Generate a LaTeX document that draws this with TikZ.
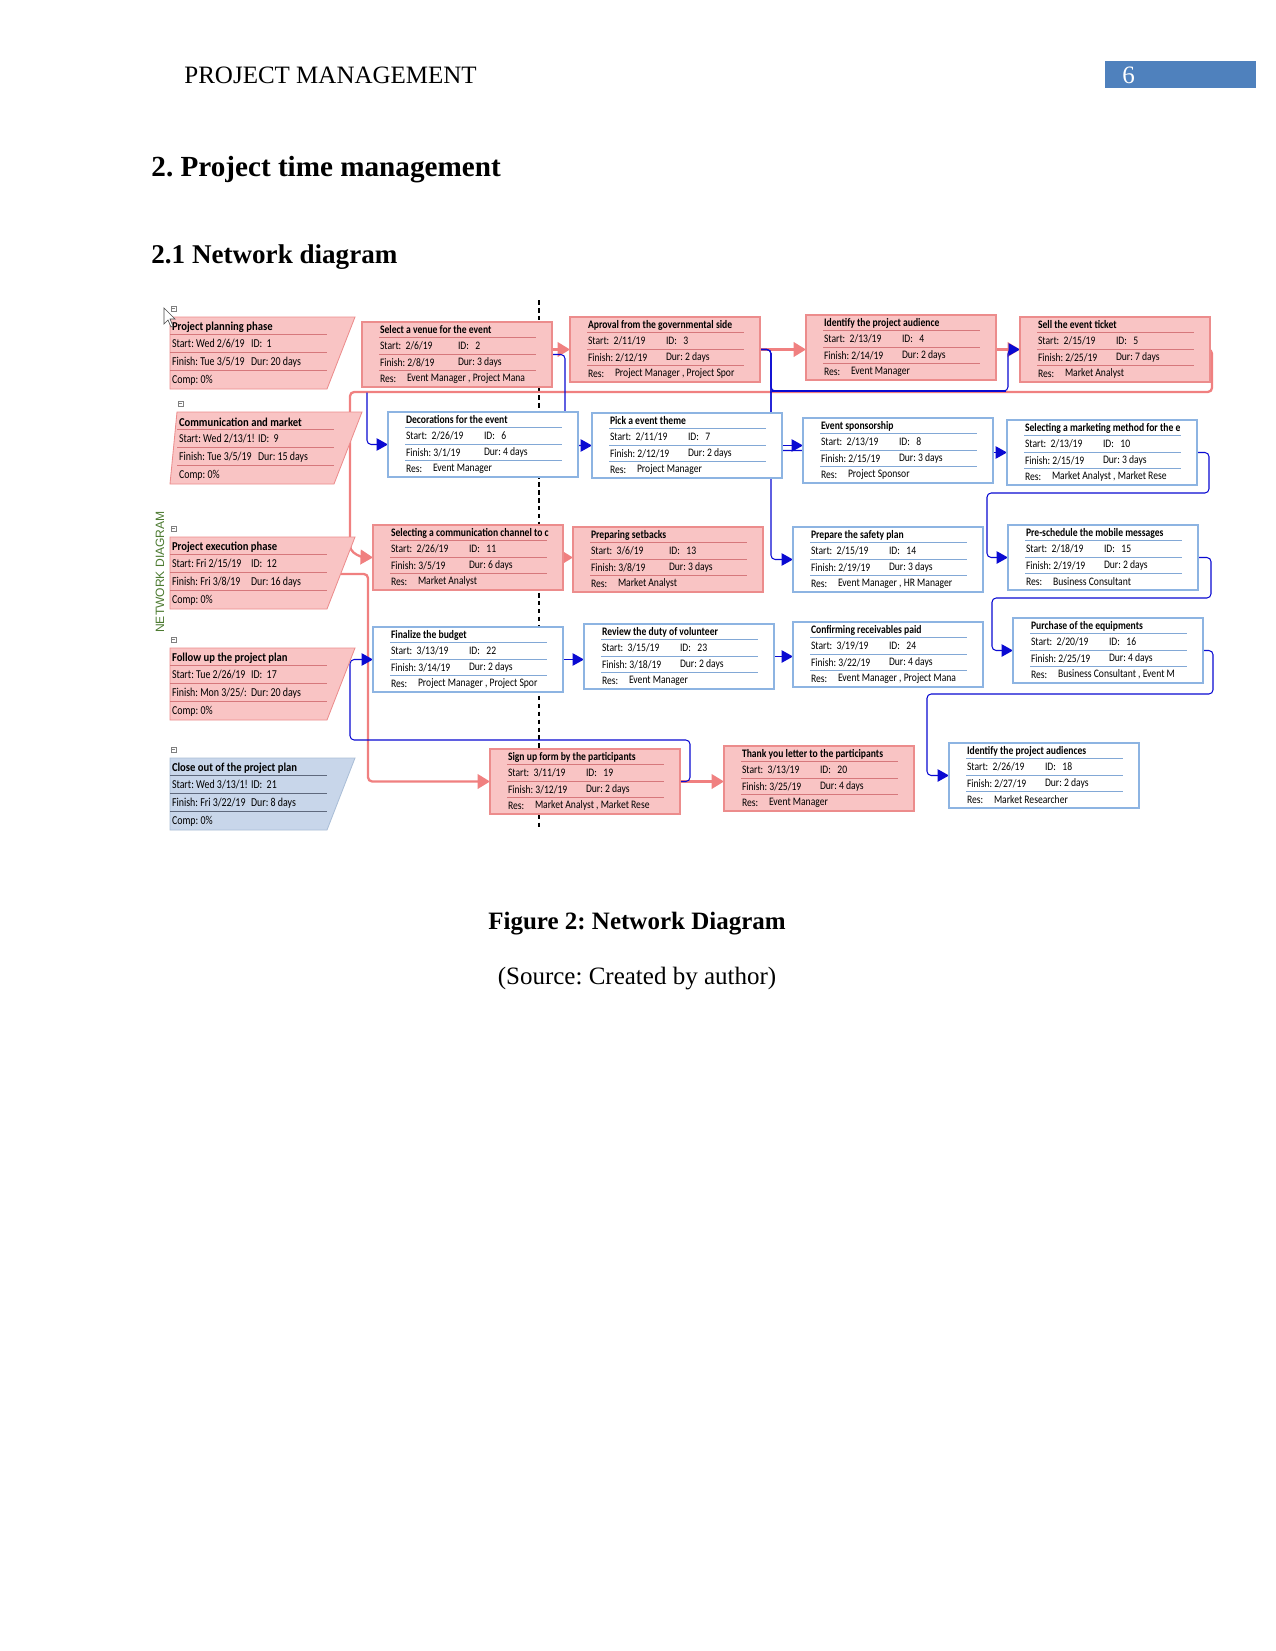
\documentclass[tikz,border=0pt]{standalone}
\usepackage{fontspec}
\setmainfont{Liberation Serif}
\newfontfamily\dfont{Carlito}[FakeStretch=0.84]
\newfontfamily\sfontr{Carlito}[FakeStretch=0.82]
\newfontfamily\sfontb{Carlito}[FakeStretch=0.88]
\newfontfamily\vfont{Liberation Sans}
\usetikzlibrary{arrows.meta,calc}
\pgfdeclarelayer{canvas}
\pgfdeclarelayer{background}
\pgfsetlayers{canvas,background,main}
\frenchspacing

\definecolor{critfill}{RGB}{249,196,196}
\definecolor{critline}{RGB}{236,140,140}
\definecolor{critsepc}{RGB}{214,120,124}
\definecolor{normline}{RGB}{141,180,226}
\definecolor{normsepc}{RGB}{130,168,214}
\definecolor{closefill}{RGB}{200,214,234}
\definecolor{closeline}{RGB}{170,190,215}
\definecolor{closesepc}{RGB}{95,105,125}
\definecolor{pinkc}{RGB}{240,128,128}
\definecolor{bluec}{RGB}{10,10,210}
\definecolor{hdrblue}{RGB}{79,129,189}
\definecolor{ndgreen}{RGB}{76,122,48}

\tikzset{
  critbox/.style={draw=critline, fill=critfill, line width=0.5pt, minimum width=91.2pt, minimum height=31.2pt, inner sep=0, outer sep=0},
  normbox/.style={draw=normline, fill=white, line width=0.5pt, minimum width=91.2pt, minimum height=31.2pt, inner sep=0, outer sep=0},
  critsep/.style={draw=critsepc, line width=0.4pt},
  normsep/.style={draw=normsepc, line width=0.4pt},
  critsum/.style={fill=critfill, draw=critline, line width=0.4pt},
  closesum/.style={fill=closefill, draw=closeline, line width=0.4pt},
  critsumsep/.style={draw=critsepc, line width=0.4pt},
  closesumsep/.style={draw=closesepc, line width=0.4pt},
  sumnode/.style={minimum height=34.56pt, inner sep=0, outer sep=0},
  ttl/.style={font=\dfont\bfseries\fontsize{5.5}{6.5}\selectfont, anchor=west, inner sep=0, outer sep=0},
  txt/.style={font=\dfont\fontsize{5.5}{6.5}\selectfont, anchor=west, inner sep=0, outer sep=0},
  sttl/.style={font=\sfontb\bfseries\fontsize{5.8}{7}\selectfont, anchor=west, inner sep=0, outer sep=0},
  stxt/.style={font=\sfontr\fontsize{5.8}{7}\selectfont, anchor=west, inner sep=0, outer sep=0},
  colbox/.style={draw=gray, fill=white, line width=0.3pt},
  nc/.style={draw=bluec, line width=0.5pt, rounded corners=2pt},
  cc/.style={draw=pinkc, line width=1.1pt, rounded corners=2pt},
  ntip/.style={-{Triangle[length=5.5pt,width=6pt]}},
  ctip/.style={-{Triangle[length=6pt,width=7pt]}},
  dashline/.style={draw=black, line width=0.5pt, dash pattern=on 2.2pt off 1.6pt},
}

% task box: name, pos, style, title, start, id, finish, dur, res
\newcommand\taskbox[9]{%
  \node[#3box, anchor=north west] (#1) at (#2) {};
  \foreach \yy in {15.5,32,48.5} \draw[#3sep] ($(#1.north west)+(17,\yy)$) -- +(157,0);
  \node[ttl] at ($(#1.north west)+(18,8)$) {#4};
  \node[txt] at ($(#1.north west)+(18,24)$) {Start:\ \ #5};
  \node[txt] at ($(#1.north west)+(96,24)$) {ID:\ \ \ #6};
  \node[txt] at ($(#1.north west)+(18,40.5)$) {Finish:\ #7};
  \node[txt] at ($(#1.north west)+(96,40.5)$) {Dur:\ #8};
  \node[txt] at ($(#1.north west)+(18,56.5)$) {Res:};
  \node[txt] at ($(#1.north west)+(45,56.5)$) {#9};
}
% summary task: name, pos, style, title, start, id, finish, dur, left skew
\newcommand\sumtask[9]{%
  \node[sumnode, minimum width={(185+#9)*0.48pt}, anchor=north west] (#1) at (#2) {};
  \filldraw[#3] ($(#1.north west)+(#9,0)$) -- (#1.north east) -- ($(#1.south east)+(-28,0)$) -- (#1.south west) -- cycle;
  \foreach \yy in {17.5,35.5,53.5} \draw[#3sep] ($(#1.north west)+(#9,\yy)$) -- +(157,0);
  \draw[colbox] ($(#1.north west)+(#9+1,-11)$) rectangle +(5,5);
  \draw[gray, line width=0.3pt] ($(#1.north west)+(#9+2,-8.5)$) -- +(3,0);
  \node[sttl] at ($(#1.north west)+(#9+2,10)$) {#4};
  \node[stxt] at ($(#1.north west)+(#9+2,27)$) {Start: #5};
  \node[stxt] at ($(#1.north west)+(#9+81,27)$) {ID:\ \ #6};
  \node[stxt] at ($(#1.north west)+(#9+2,45)$) {Finish: #7};
  \node[stxt] at ($(#1.north west)+(#9+81,45)$) {Dur: #8};
  \node[stxt] at ($(#1.north west)+(#9+2,63)$) {Comp: 0\%};
}

\begin{document}
\begin{tikzpicture}[x=0.48pt, y=-0.48pt]
\useasboundingbox (0,0) rectangle (1275,1651);
\begin{pgfonlayer}{canvas}
  \fill[white] (0,0) rectangle (1275,1651);
\end{pgfonlayer}

% header
\node[anchor=west, font=\fontsize{12}{14}\selectfont, inner sep=0] (hdr) at (184,75) {PROJECT MANAGEMENT};
\node[fill=hdrblue, minimum width=72.48pt, minimum height=12.96pt, anchor=north west, inner sep=0, outer sep=0] (pg) at (1105,61) {};
\node[anchor=west, text=white, font=\fontsize{12}{14}\selectfont, inner sep=0] (pgno) at (1122,75) {6};

% headings
\node[anchor=west, font=\bfseries\fontsize{14}{16}\selectfont, inner sep=0] (h1) at (151,170) {2. Project time management};
\node[anchor=west, font=\bfseries\fontsize{13}{15}\selectfont, inner sep=0] (h2) at (151,257) {2.1 Network diagram};

% side label
\node[rotate=90, font=\vfont\fontsize{5.8}{7}\selectfont, text=ndgreen, inner sep=0] (nd) at (160,572) {NETWORK DIAGRAM};

% summary tasks
\sumtask{s1}{170,317}{critsum}{Project planning phase}{Wed 2/6/19}{1}{Tue 3/5/19}{20 days}{0}
\sumtask{s9}{170,412}{critsum}{Communication and market}{Wed 2/13/1!}{9}{Tue 3/5/19}{15 days}{7}
\sumtask{s12}{170,537}{critsum}{Project execution phase}{Fri 2/15/19}{12}{Fri 3/8/19}{16 days}{0}
\sumtask{s17}{170,648}{critsum}{Follow up the project plan}{Tue 2/26/19}{17}{Mon 3/25/:}{20 days}{0}
\sumtask{s21}{170,758}{closesum}{Close out of the project plan}{Wed 3/13/1!}{21}{Fri 3/22/19}{8 days}{0}

% mouse cursor
\filldraw[fill=white, draw=black!70, line width=0.3pt] (164,308) -- (164,324) -- (168,320) -- (171,327) -- (173,326) -- (170,319) -- (175,319) -- cycle;

% tasks
\taskbox{t2}{362,322}{crit}{Select a venue for the event}{2/6/19}{2}{2/8/19}{3 days}{Event Manager , Project Mana}
\taskbox{t3}{570,317}{crit}{Aproval from the governmental side}{2/11/19}{3}{2/12/19}{2 days}{Project Manager , Project Spor}
\taskbox{t4}{806,315}{crit}{Identify the project audience}{2/13/19}{4}{2/14/19}{2 days}{Event Manager}
\taskbox{t5}{1020,317}{crit}{Sell the event ticket}{2/15/19}{5}{2/25/19}{7 days}{Market Analyst}
\taskbox{t6}{388,412}{norm}{Decorations for the event}{2/26/19}{6}{3/1/19}{4 days}{Event Manager}
\taskbox{t7}{592,413}{norm}{Pick a event theme}{2/11/19}{7}{2/12/19}{2 days}{Project Manager}
\taskbox{t8}{803,418}{norm}{Event sponsorship}{2/13/19}{8}{2/15/19}{3 days}{Project Sponsor}
\taskbox{t10}{1007,420}{norm}{Selecting a marketing method for the e}{2/13/19}{10}{2/15/19}{3 days}{Market Analyst , Market Rese}
\taskbox{t11}{373,525}{crit}{Selecting a communication channel to c}{2/26/19}{11}{3/5/19}{6 days}{Market Analyst}
\taskbox{t13}{573,527}{crit}{Preparing setbacks}{3/6/19}{13}{3/8/19}{3 days}{Market Analyst}
\taskbox{t14}{793,527}{norm}{Prepare the safety plan}{2/15/19}{14}{2/19/19}{3 days}{Event Manager , HR Manager}
\taskbox{t15}{1008,525}{norm}{Pre-schedule the mobile messages}{2/18/19}{15}{2/19/19}{2 days}{Business Consultant}
\taskbox{t22}{373,627}{norm}{Finalize the budget}{3/13/19}{22}{3/14/19}{2 days}{Project Manager , Project Spor}
\taskbox{t23}{584,624}{norm}{Review the duty of volunteer}{3/15/19}{23}{3/18/19}{2 days}{Event Manager}
\taskbox{t24}{793,622}{norm}{Confirming receivables paid}{3/19/19}{24}{3/22/19}{4 days}{Event Manager , Project Mana}
\taskbox{t16}{1013,618}{norm}{Purchase of the equipments}{2/20/19}{16}{2/25/19}{4 days}{Business Consultant , Event M}
\taskbox{t19}{490,749}{crit}{Sign up form by the participants}{3/11/19}{19}{3/12/19}{2 days}{Market Analyst , Market Rese}
\taskbox{t20}{724,746}{crit}{Thank you letter to the participants}{3/13/19}{20}{3/25/19}{4 days}{Event Manager}
\taskbox{t18}{949,743}{norm}{Identify the project audiences}{2/26/19}{18}{2/27/19}{2 days}{Market Researcher}

% caption
\node[font=\bfseries\fontsize{12}{14}\selectfont, inner sep=0] (cap) at (637,924) {Figure 2: Network Diagram};
\node[font=\fontsize{12}{14}\selectfont, inner sep=0] (src) at (637,979) {(Source: Created by author)};

% connectors
\begin{pgfonlayer}{background}
  \draw[dashline] (539,300) -- (539,830);
  % critical (pink)
  \draw[cc, ctip] (t2.east |- t3.west) -- (t3.west);
  \draw[cc, ctip] (t3.east) -- (t3.east -| t4.west);
  \draw[cc, ctip] (t4.east |- t5.west) -- (t5.west);
  \draw[cc, ctip] (t5.east) -- ++(2,0) |- ($(s9.north east)+(-12,-20)$) -- ++(0,158) -- ++(10,7) -- (t11.west);
  \draw[cc, ctip] (t11.east) -- (t11.east -| t13.west);
  \draw[cc, ctip] ($(s12.north east)+(-14,37)$) -- ++(27,0) |- (t19.west);
  \draw[cc, ctip] (t19.east) -- (t19.east -| t20.west);
  % non-critical (blue)
  \draw[nc, ntip] (t2.east) -- ++(13,0) |- (t7.west);
  \draw[nc, ntip] (t3.east) -- ++(11,0) |- (t14.west);
  \draw[nc] (t3.east) -- ++(11,0) |- (t8.west);
  \draw[nc, ntip] (t3.east) -- ++(11,0) -- ++(0,41.5) -| ($(t5.west)+(-12,0)$) -- (t5.west);
  \draw[draw=bluec, line width=1.1pt] ($(t3.east)+(12,41.5)$) -- ($(t5.west)+(-14,41.5)$);
  \draw[nc, ntip] ($(t6.west)+(-21,-52)$) |- (t6.west);
  \draw[nc, ntip] (t7.east) -- (t7.east -| t8.west);
  \draw[nc, ntip] (t8.east |- t10.west) -- (t10.west);
  \draw[nc, ntip] (t10.east) -- ++(12,0) -- ++(0,40.5) -| ($(t15.west)+(-21,0)$) -- (t15.west);
  \draw[nc, ntip] (t15.east) -- ++(13,0) -- ++(0,40.5) -| ($(t16.west)+(-21,0)$) -- (t16.west);
  \draw[nc, ntip] (t16.east) -- ++(10,0) -- ++(0,43.5) -| ($(t18.west)+(-22,0)$) -- (t18.west);
  \draw[nc, ntip] (t19.east) -- ++(10,0) -- ++(0,-41.5) -| ($(t22.west)+(-23,0)$) -- (t22.west);
  \draw[nc, ntip] (t22.east) -- (t22.east -| t23.west);
  \draw[nc, ntip] (t23.east) -- (t23.east -| t24.west);
\end{pgfonlayer}
\end{tikzpicture}
\end{document}
